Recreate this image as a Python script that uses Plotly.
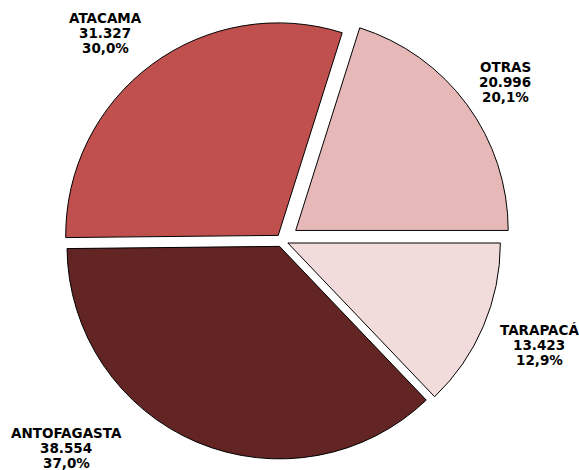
import plotly.graph_objects as go

# Data (order as drawn clockwise starting near 12 o'clock)
regions = ["OTRAS", "TARAPACÁ", "ANTOFAGASTA", "ATACAMA"]
values = [20996, 13423, 38554, 31327]
colors = ["#E6B9B8", "#F2DCDB", "#632523", "#C0504D"]
pulls = [0.08, 0.03, 0.03, 0.03]

# Label positions in pixels (center x, center y of first line)
label_pos = {
    "OTRAS": (505, 67),
    "TARAPACÁ": (539, 330),
    "ANTOFAGASTA": (66, 433),
    "ATACAMA": (105, 18),
}
LINE_STEP = 15

W, H = 579, 470
total = sum(values)


def fmt_int(v):
    return f"{v:,}".replace(",", ".")


def fmt_pct(v):
    return f"{100 * v / total:.1f}%".replace(".", ",")


fig = go.Figure(
    go.Pie(
        labels=regions,
        values=values,
        sort=False,
        direction="clockwise",
        rotation=90 - 360 * values[0] / total,
        pull=pulls,
        marker=dict(colors=colors, line=dict(color="#000000", width=1)),
        textinfo="none",
        hoverinfo="skip",
        domain=dict(x=[0.0725, 0.9016], y=[0.0, 0.9766]),
    )
)

annotations = []
for name, v in zip(regions, values):
    px, py = label_pos[name]
    for i, line in enumerate([name, fmt_int(v), fmt_pct(v)]):
        annotations.append(
            dict(
                x=px / W,
                y=1 - (py + i * LINE_STEP) / H,
                xref="paper",
                yref="paper",
                xanchor="center",
                yanchor="middle",
                showarrow=False,
                align="center",
                text=f"<b>{line}</b>",
                font=dict(family="Verdana, DejaVu Sans", size=13.5, color="#000000"),
            )
        )

fig.update_layout(
    width=W,
    height=H,
    margin=dict(l=0, r=0, t=0, b=0),
    paper_bgcolor="#FFFFFF",
    plot_bgcolor="#FFFFFF",
    showlegend=False,
    annotations=annotations,
)

fig.write_html("out.html")
